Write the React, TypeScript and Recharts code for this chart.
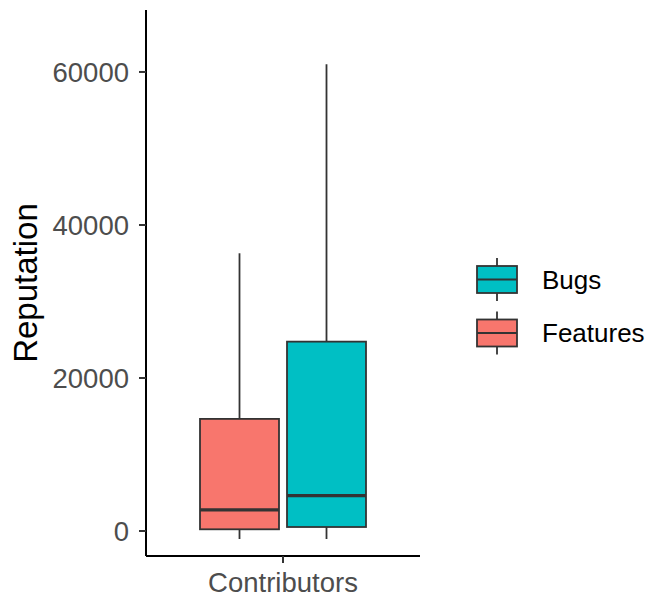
import React from 'react';
import { BarChart, Bar, XAxis, YAxis, Legend, Label } from 'recharts';

// box plot stats
const categories = ['Contributors'];
const groups = ['Features', 'Bugs'];
const groupColors = ['#F8766D', '#00BFC4'];
const whiskerLow = [-1050, -1050];
const lowerQuartile = [220, 520];
const medians = [2750, 4610];
const upperQuartile = [14650, 24750];
const whiskerHigh = [36300, 61000];
const yTicks = [0, 20000, 40000, 60000];
const legendOrder = ['Bugs', 'Features'];

const FONT = '"Liberation Sans", Arial, Helvetica, sans-serif';

const chartData = categories.map(name => {
    const row: any = { name };
    groups.forEach((g, i) => {
        row[g] = [whiskerLow[i], whiskerHigh[i]];
    });
    return row;
});

const BoxShape = (props: any) => {
    const { x, y, width, height, idx } = props;
    const lo = whiskerLow[idx];
    const hi = whiskerHigh[idx];
    const top = Math.min(y, y + height);
    const h = Math.abs(height);
    const toY = (v: number) => top + ((hi - v) / (hi - lo)) * h;
    const cx = x + width / 2;
    const yQ3 = toY(upperQuartile[idx]);
    const yQ1 = toY(lowerQuartile[idx]);
    const yMed = toY(medians[idx]);
    return (
        <g>
            <line x1={cx} x2={cx} y1={toY(hi)} y2={yQ3} stroke="#333333" strokeWidth={1.8} />
            <line x1={cx} x2={cx} y1={yQ1} y2={toY(lo)} stroke="#333333" strokeWidth={1.8} />
            <rect x={x} y={yQ3} width={width} height={yQ1 - yQ3} fill={groupColors[idx]} stroke="#333333" strokeWidth={1.8} />
            <line x1={x} x2={x + width} y1={yMed} y2={yMed} stroke="#333333" strokeWidth={3.2} />
        </g>
    );
};

const LegendKeys = () => (
    <svg width={187} height={115} style={{ display: 'block' }}>
        {legendOrder.map((name, i) => {
            const cy = 29.5 + i * 53.5;
            const color = groupColors[groups.indexOf(name)];
            return (
                <g key={name}>
                    <line x1={35} x2={35} y1={cy - 21.5} y2={cy + 21.5} stroke="#333333" strokeWidth={1.8} />
                    <rect x={15} y={cy - 13.5} width={40} height={27} fill={color} stroke="#333333" strokeWidth={1.8} />
                    <line x1={15} x2={55} y1={cy} y2={cy} stroke="#333333" strokeWidth={1.8} />
                    <text x={80} y={cy + 9.3} fontSize={26} fill="#000000" fontFamily={FONT}>{name}</text>
                </g>
            );
        })}
    </svg>
);

export default function App() {
    return (
        <div style={{ position: 'absolute', left: 0, top: 0, width: 649, height: 595, background: '#fff' }}>
            <BarChart
                width={649}
                height={595}
                data={chartData}
                margin={{ top: 10, right: 42, left: 0, bottom: 0 }}
                barSize={79}
                barGap={8}
            >
                <XAxis
                    dataKey="name"
                    axisLine={{ stroke: '#000000', strokeWidth: 2 }}
                    tickLine={{ stroke: '#333333', strokeWidth: 2 }}
                    tickSize={7}
                    tickMargin={9}
                    height={39}
                    tick={{ fill: '#4D4D4D', fontSize: 27.5, fontFamily: FONT }}
                />
                <YAxis
                    type="number"
                    domain={[-3270, 68100]}
                    ticks={yTicks}
                    interval={0}
                    width={146}
                    axisLine={{ stroke: '#000000', strokeWidth: 2 }}
                    tickLine={{ stroke: '#333333', strokeWidth: 2 }}
                    tickSize={7}
                    tickMargin={10}
                    tick={{ fill: '#4D4D4D', fontSize: 27.5, fontFamily: FONT }}
                >
                    <Label
                        content={() => (
                            <text
                                x={37}
                                y={283}
                                transform="rotate(-90, 37, 283)"
                                textAnchor="middle"
                                fontSize={33}
                                fill="#000000"
                                fontFamily={FONT}
                            >
                                Reputation
                            </text>
                        )}
                    />
                </YAxis>
                <Legend
                    layout="vertical"
                    align="right"
                    verticalAlign="top"
                    wrapperStyle={{ left: 462, top: 250, width: 187, right: 'auto' }}
                    content={() => <LegendKeys />}
                />
                {groups.map((g, i) => (
                    <Bar
                        key={g}
                        dataKey={g}
                        isAnimationActive={false}
                        shape={(p: any) => <BoxShape {...p} idx={i} />}
                    />
                ))}
            </BarChart>
        </div>
    );
}
